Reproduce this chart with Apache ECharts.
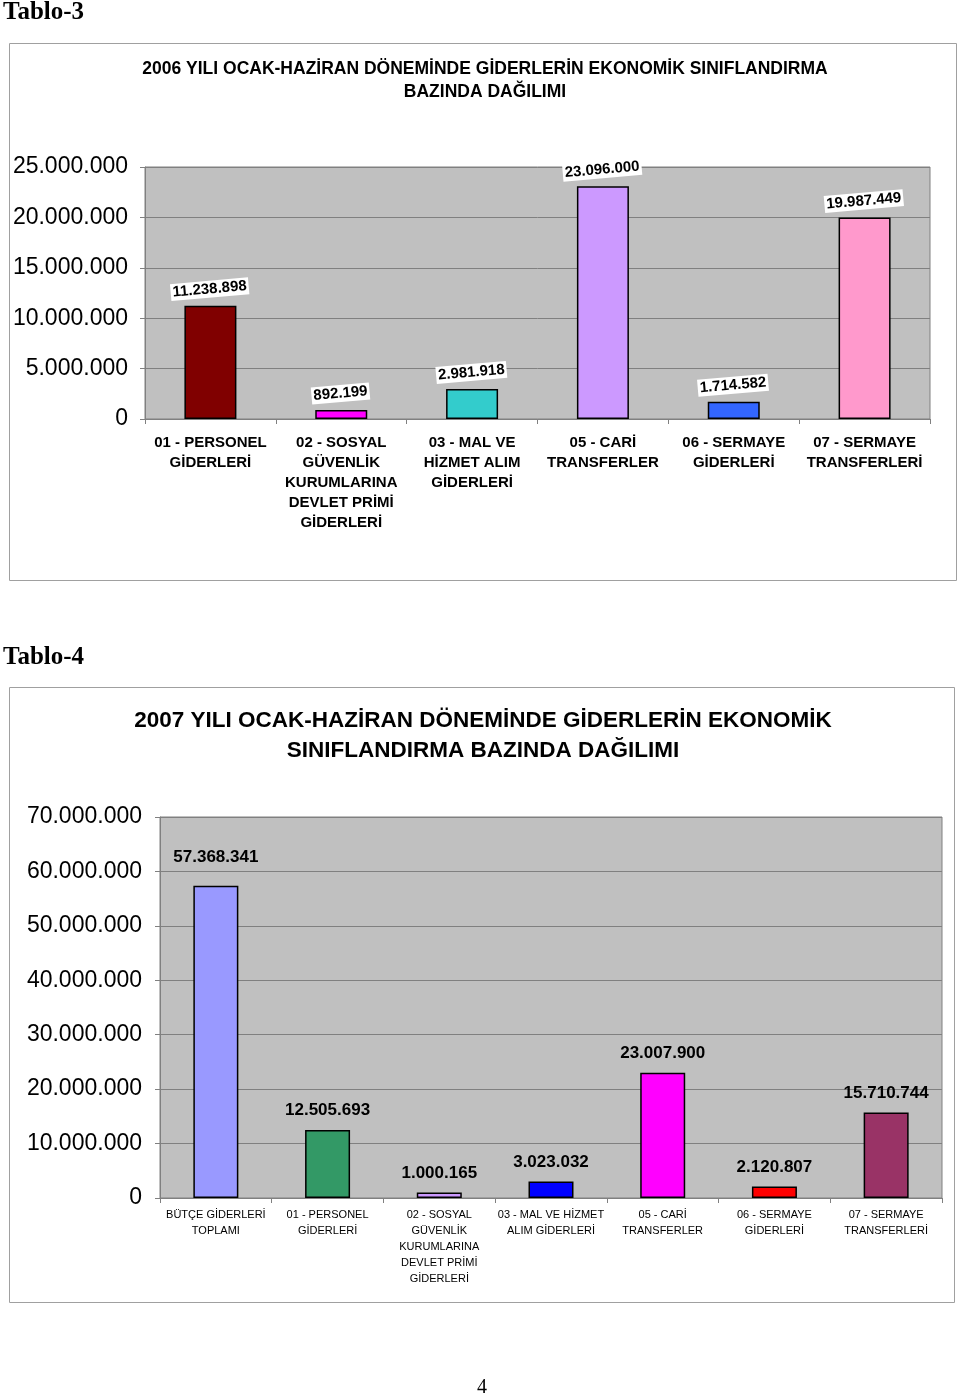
<!DOCTYPE html>
<html><head><meta charset="utf-8">
<script src="https://cdn.jsdelivr.net/npm/echarts@6/dist/echarts.min.js"></script>
<style>html,body{margin:0;padding:0;background:#fff}#c{width:960px;height:1396px}</style>
</head><body><div id="c"></div>
<script>
// ---- Tablo-3 (2006) ----
const cats2006 = ["01 - PERSONEL\nGİDERLERİ","02 - SOSYAL\nGÜVENLİK\nKURUMLARINA\nDEVLET PRİMİ\nGİDERLERİ","03 - MAL VE\nHİZMET ALIM\nGİDERLERİ","05 - CARİ\nTRANSFERLER","06 - SERMAYE\nGİDERLERİ","07 - SERMAYE\nTRANSFERLERİ"];
const vals2006 = [11238898, 892199, 2981918, 23096000, 1714582, 19987449];
const colors2006 = ["#800000","#ff00ff","#33cccc","#cc99ff","#3366ff","#ff99cc"];
const title2006 = "2006 YILI OCAK-HAZİRAN DÖNEMİNDE GİDERLERİN EKONOMİK SINIFLANDIRMA\nBAZINDA DAĞILIMI";
// ---- Tablo-4 (2007) ----
const cats2007 = ["BÜTÇE GİDERLERİ\nTOPLAMI","01 - PERSONEL\nGİDERLERİ","02 - SOSYAL\nGÜVENLİK\nKURUMLARINA\nDEVLET PRİMİ\nGİDERLERİ","03 - MAL VE HİZMET\nALIM GİDERLERİ","05 - CARİ\nTRANSFERLER","06 - SERMAYE\nGİDERLERİ","07 - SERMAYE\nTRANSFERLERİ"];
const vals2007 = [57368341, 12505693, 1000165, 3023032, 23007900, 2120807, 15710744];
const colors2007 = ["#9999ff","#339966","#cc99ff","#0000ff","#ff00ff","#ff0000","#993366"];
const title2007 = "2007 YILI OCAK-HAZİRAN DÖNEMİNDE GİDERLERİN EKONOMİK\nSINIFLANDIRMA BAZINDA DAĞILIMI";

const fmt = v => String(v).replace(/\B(?=(\d{3})+(?!\d))/g, '.');
const chart = echarts.init(document.getElementById('c'), null, {renderer:'canvas'});
const F = 'Arial, "Liberation Sans", sans-serif';
const gridStyle = {show:true, backgroundColor:'#c0c0c0', borderColor:'#808080', borderWidth:1};

chart.setOption({
  animation:false,
  graphic:[
    {type:'rect', shape:{x:9.5,y:43.5,width:947,height:537}, style:{fill:'none',stroke:'#a0a0a0',lineWidth:1}},
    {type:'rect', shape:{x:9.5,y:687.5,width:945,height:615}, style:{fill:'none',stroke:'#a0a0a0',lineWidth:1}},
    {type:'text', left:3, top:0, style:{text:'Tablo-3', font:'bold 25px "Liberation Serif", "Times New Roman", serif', fill:'#000'}},
    {type:'text', left:3, top:645, style:{text:'Tablo-4', font:'bold 25px "Liberation Serif", "Times New Roman", serif', fill:'#000'}},
    {type:'text', left:477, top:1378, style:{text:'4', font:'20px "Liberation Serif", "Times New Roman", serif', fill:'#000'}}
  ],
  title:[
    {text:title2006, left:480, top:53, textAlign:'center',
     textStyle:{fontFamily:F, fontWeight:'bold', fontSize:17.5, lineHeight:23, color:'#000'}},
    {text:title2007, left:478, top:701, textAlign:'center',
     textStyle:{fontFamily:F, fontWeight:'bold', fontSize:22.5, lineHeight:30, color:'#000'}}
  ],
  grid:[
    Object.assign({left:145, top:167, width:785, height:252}, gridStyle),
    Object.assign({left:160, top:817, width:782, height:381}, gridStyle)
  ],
  xAxis:[
    {type:'category', gridIndex:0, data:cats2006,
     axisLine:{lineStyle:{color:'#808080'}}, axisTick:{show:true,length:5,lineStyle:{color:'#808080'}},
     axisLabel:{interval:0, margin:14, fontFamily:F, fontWeight:'bold', fontSize:15, lineHeight:20, color:'#000'}},
    {type:'category', gridIndex:1, data:cats2007,
     axisLine:{lineStyle:{color:'#808080'}}, axisTick:{show:true,length:5,lineStyle:{color:'#808080'}},
     axisLabel:{interval:0, margin:9, fontFamily:F, fontSize:11, lineHeight:16, color:'#000'}}
  ],
  yAxis:[
    {type:'value', gridIndex:0, min:0, max:25000000, interval:5000000,
     axisLine:{show:true,lineStyle:{color:'#808080'}}, axisTick:{show:true,length:5,lineStyle:{color:'#808080'}},
     splitLine:{lineStyle:{color:'#808080'}},
     axisLabel:{margin:17, fontFamily:F, fontSize:23, color:'#000', formatter:fmt}},
    {type:'value', gridIndex:1, min:0, max:70000000, interval:10000000,
     axisLine:{show:true,lineStyle:{color:'#808080'}}, axisTick:{show:true,length:5,lineStyle:{color:'#808080'}},
     splitLine:{lineStyle:{color:'#808080'}},
     axisLabel:{margin:18, fontFamily:F, fontSize:23, color:'#000', formatter:fmt}}
  ],
  series:[
    {type:'bar', xAxisIndex:0, yAxisIndex:0, barWidth:52,
     data: vals2006.map((v,i)=>({value:v, itemStyle:{color:colors2006[i]}})),
     itemStyle:{borderColor:'#000', borderWidth:1.5},
     label:{show:true, position:'top', distance:8, rotate:5, formatter:p=>fmt(p.value),
            fontFamily:F, fontWeight:'bold', fontSize:15, color:'#000', backgroundColor:'#fff', padding:[1,2]}},
    {type:'bar', xAxisIndex:1, yAxisIndex:1, barWidth:45,
     data: vals2007.map((v,i)=>({value:v, itemStyle:{color:colors2007[i]},
                                 label: i===0 ? {distance:20} : undefined})),
     itemStyle:{borderColor:'#000', borderWidth:1.5},
     label:{show:true, position:'top', distance:11, formatter:p=>fmt(p.value),
            fontFamily:F, fontWeight:'bold', fontSize:17, color:'#000'}}
  ]
});
</script></body></html>
